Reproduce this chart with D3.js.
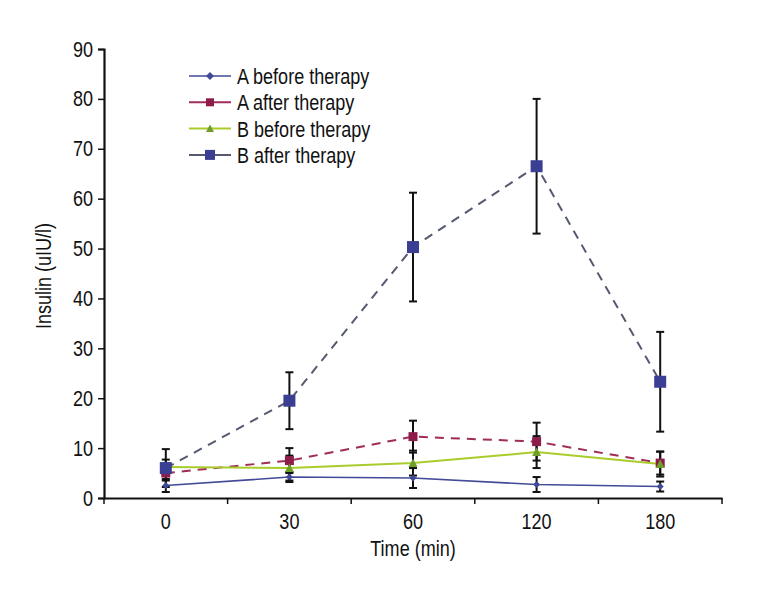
<!DOCTYPE html>
<html><head><meta charset="utf-8">
<script src="https://cdn.jsdelivr.net/npm/d3@7"></script>
<style>body{margin:0;background:#fff}svg{display:block}text{font-family:"Liberation Sans",Arial,sans-serif}</style>
</head><body><svg id="c" width="768" height="600"></svg>
<script>
const categories = ["0","30","60","120","180"];
const yTicks = [0,10,20,30,40,50,60,70,80,90];
const seriesNames = ["A before therapy","A after therapy","B before therapy","B after therapy"];
const aBefore = [2.5, 4.2, 4.0, 2.7, 2.3];
const aBeforeErr = [1.3, 1.0, 2.0, 1.5, 1.0];
const aAfter = [5.0, 7.5, 12.3, 11.3, 7.0];
const aAfterErr = [1.5, 2.5, 3.2, 3.8, 2.3];
const bBefore = [6.2, 6.0, 7.0, 9.2, 6.8];
const bBeforeErr = [1.5, 2.5, 2.5, 3.2, 2.5];
const bAfter = [6.0, 19.5, 50.3, 66.5, 23.3];
const bAfterErr = [3.8, 5.7, 10.9, 13.5, 10.0];

const series = [
  {name: seriesNames[0], vals: aBefore, err: aBeforeErr, line: "#434a98", lw: 1.6, dash: null, marker: "diamond", fill: "#3e4a97", ms: 7},
  {name: seriesNames[1], vals: aAfter, err: aAfterErr, line: "#a02c58", lw: 2, dash: "9,7", marker: "square", fill: "#8e1d4c", ms: 9},
  {name: seriesNames[2], vals: bBefore, err: bBeforeErr, line: "#a9cc2c", lw: 2, dash: null, marker: "triangle", fill: "#6f9e2a", ms: 9},
  {name: seriesNames[3], vals: bAfter, err: bAfterErr, line: "#555a70", lw: 2, dash: "9,7", marker: "square", fill: "#3a3f93", ms: 12}
];

const FS = 22, SX = 0.82;
const svg = d3.select("#c");
const L = 104, R = 722, T = 49, B = 498;
const x = d3.scaleBand().domain(categories).range([L, R]);
const y = d3.scaleLinear().domain([0, 90]).range([B, T]);
const cx = c => x(c) + x.bandwidth()/2;

function label(px, py, txt, anchor, rot) {
  return svg.append("text")
    .attr("transform", `translate(${px},${py})${rot ? " rotate(-90)" : ""} scale(${SX},1)`)
    .attr("text-anchor", anchor).attr("font-size", FS).attr("fill", "#111").text(txt);
}

// y axis
const ya = svg.append("g").attr("transform", `translate(${L},0)`)
  .call(d3.axisLeft(y).tickValues(yTicks).tickSize(6).tickPadding(7));
ya.select(".domain").attr("stroke", "#111").attr("stroke-width", 2.2);
ya.selectAll(".tick line").attr("stroke", "#111").attr("stroke-width", 1.5);
ya.selectAll("text").attr("font-size", FS).attr("fill", "#111")
  .attr("x", null).attr("transform", `translate(-11,0) scale(${SX},1)`);

// x axis
const xa = svg.append("g").attr("transform", `translate(0,${B})`)
  .call(d3.axisBottom(x).tickSize(0).tickPadding(15));
xa.select(".domain").attr("stroke", "#111").attr("stroke-width", 2.2);
xa.selectAll("text").attr("font-size", FS).attr("fill", "#111").attr("transform", `scale(${SX},1)`);
const bounds = categories.map(c => x(c)).concat([R]);
svg.append("g").selectAll("line").data(bounds).join("line")
  .attr("x1", d => d).attr("x2", d => d).attr("y1", B).attr("y2", B + 6)
  .attr("stroke", "#111").attr("stroke-width", 1.5);

// axis titles
label(413, 556, "Time (min)", "middle", false);
label(51, 276, "Insulin (uIU/l)", "middle", true);

function marker(g, type, px, py, s, fill) {
  if (type === "square") {
    g.append("rect").attr("x", px - s/2).attr("y", py - s/2).attr("width", s).attr("height", s).attr("fill", fill);
  } else if (type === "diamond") {
    g.append("path").attr("d", `M${px},${py-s/2}L${px+s/2},${py}L${px},${py+s/2}L${px-s/2},${py}Z`).attr("fill", fill);
  } else {
    g.append("path").attr("d", `M${px},${py-s/2}L${px+s/2},${py+s/2.3}L${px-s/2},${py+s/2.3}Z`).attr("fill", fill);
  }
}

const plot = svg.append("g");
series.forEach(s => {
  s.vals.forEach((v, i) => {
    const px = cx(categories[i]);
    const y1 = y(v + s.err[i]), y2 = y(Math.max(0, v - s.err[i]));
    plot.append("line").attr("x1", px).attr("x2", px).attr("y1", y1).attr("y2", y2).attr("stroke", "#111").attr("stroke-width", 2);
    [y1, y2].forEach(yy => plot.append("line").attr("x1", px - 4).attr("x2", px + 4).attr("y1", yy).attr("y2", yy).attr("stroke", "#111").attr("stroke-width", 2));
  });
});
const line = d3.line().x((d, i) => cx(categories[i])).y(d => y(d));
series.forEach(s => {
  plot.append("path").attr("d", line(s.vals)).attr("fill", "none").attr("stroke", s.line)
    .attr("stroke-width", s.lw).attr("stroke-dasharray", s.dash);
});
series.forEach(s => {
  s.vals.forEach((v, i) => marker(plot, s.marker, cx(categories[i]), y(v), s.ms, s.fill));
});

// legend
const lg = svg.append("g");
series.forEach((s, i) => {
  const ly = 76 + i * 26.3;
  lg.append("line").attr("x1", 189).attr("x2", 231).attr("y1", ly).attr("y2", ly)
    .attr("stroke", s.line).attr("stroke-width", s.lw);
  marker(lg, s.marker, 210, ly, s.marker === "square" ? (i === 3 ? 10 : 8) : 8, s.fill);
  label(237, ly + 8, s.name, "start", false);
});
</script></body></html>
